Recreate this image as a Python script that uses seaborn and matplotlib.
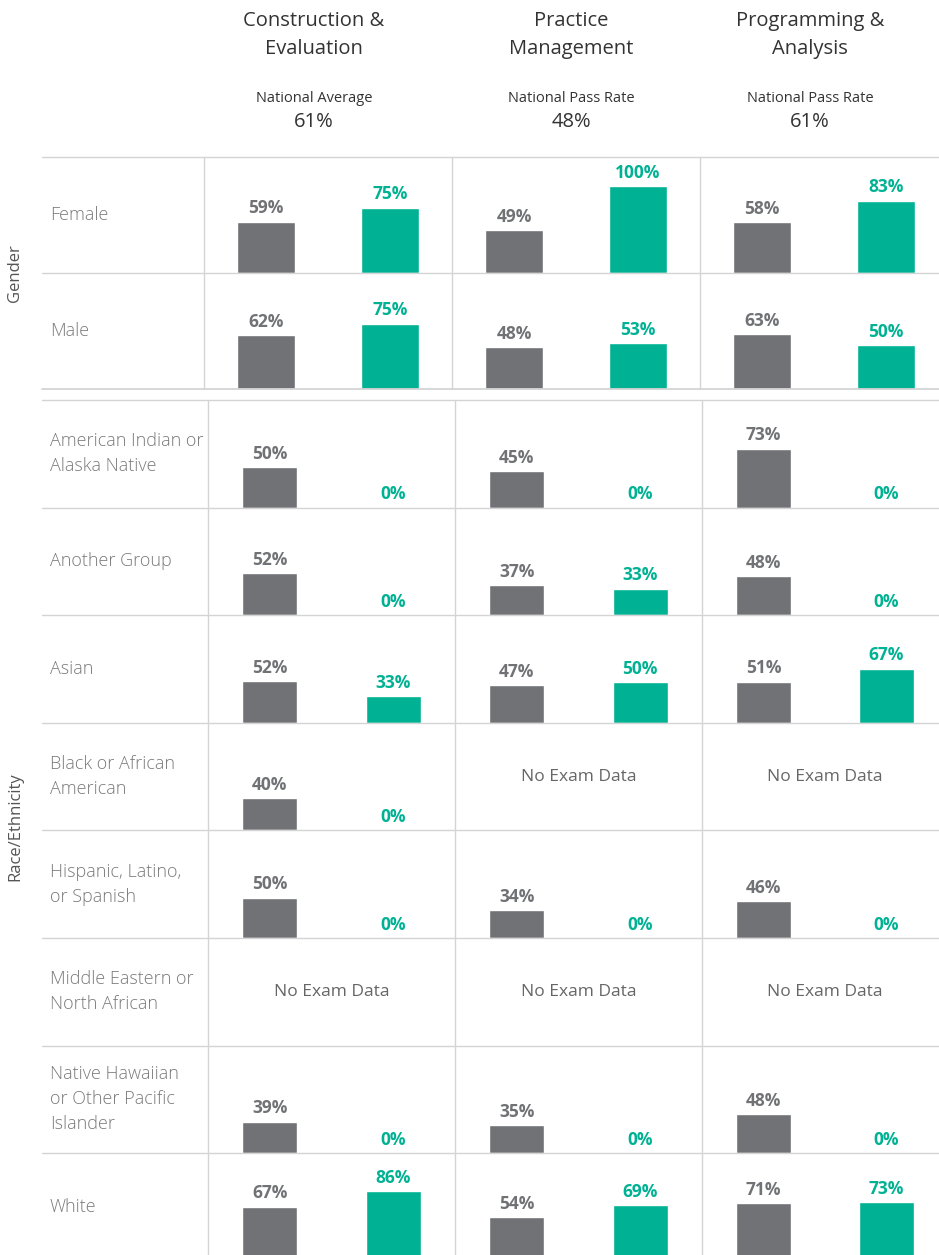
import numpy as np
import pandas as pd
import matplotlib
matplotlib.use("Agg")
import matplotlib.pyplot as plt
import seaborn as sns

# exam columns and their national rate headers
exams = ['Construction &\nEvaluation', 'Practice\nManagement', 'Programming &\nAnalysis']
rate_titles = ['National Average', 'National Pass Rate', 'National Pass Rate']
national_rates = [61, 48, 61]

series = ['National', 'Program']

gender_groups = ['Female', 'Male']
gender_gray = [[59, 49, 58], [62, 48, 63]]
gender_green = [[75, 100, 83], [75, 53, 50]]

race_groups = ['American Indian or\nAlaska Native', 'Another Group', 'Asian',
               'Black or African\nAmerican', 'Hispanic, Latino,\nor Spanish',
               'Middle Eastern or\nNorth African',
               'Native Hawaiian\nor Other Pacific\nIslander', 'White']
race_gray = [[50, 45, 73], [52, 37, 48], [52, 47, 51], [40, None, None],
             [50, 34, 46], [None, None, None], [39, 35, 48], [67, 54, 71]]
race_green = [[0, 0, 0], [0, 33, 0], [33, 50, 67], [0, None, None],
              [0, 0, 0], [None, None, None], [0, 0, 0], [86, 69, 73]]

GRAY = '#717276'
GREEN = '#00b293'
LINE = '#d4d4d4'
W, H = 939, 1255

sns.set_theme(style='white')
plt.rcParams['font.family'] = ['Open Sans', 'DejaVu Sans']

fig = plt.figure(figsize=(W / 100, H / 100), dpi=100)


def fx(px):
    return px / W


def fy(py):
    return 1 - py / H


def hline(x0, x1, y, lw=1.0):
    fig.add_artist(plt.Line2D([fx(x0), fx(x1)], [fy(y), fy(y)], color=LINE, lw=lw,
                              transform=fig.transFigure))


def vline(x, y0, y1):
    fig.add_artist(plt.Line2D([fx(x), fx(x)], [fy(y0), fy(y1)], color=LINE, lw=1.0,
                              transform=fig.transFigure))


def make_long(groups, gray, green):
    rows = []
    for gi, g in enumerate(groups):
        for ei, e in enumerate(exams):
            rows.append((g, ei, series[0], gray[gi][ei]))
            rows.append((g, ei, series[1], green[gi][ei]))
    return pd.DataFrame(rows, columns=['group', 'exam', 'series', 'rate'])


def draw_section(df, groups, col_edges, row_edges, bar_width):
    for gi, g in enumerate(groups):
        y0, y1 = row_edges[gi], row_edges[gi + 1]
        fig.text(fx(50), fy((y0 + y1) / 2), g, ha='left', va='center', fontsize=13,
                 color='#7a7a7a', fontweight='light', linespacing=1.5)
        for ei in range(3):
            x0, x1 = col_edges[ei], col_edges[ei + 1]
            ax = fig.add_axes([fx(x0), fy(y1), fx(x1 - x0), (y1 - y0) / H])
            sub = df[(df.group == g) & (df.exam == ei)]
            if sub.rate.isna().all():
                ax.text(0.5, 0.5, 'No Exam Data', transform=ax.transAxes, ha='center',
                        va='center', fontsize=12.5, color='#666666')
            else:
                sub = sub.assign(rate=sub.rate.astype(float))
                sns.barplot(data=sub, x='series', y='rate', hue='series', order=series,
                            hue_order=series, palette=[GRAY, GREEN], width=bar_width,
                            legend=False, ax=ax, saturation=1)
                for i, (v, c) in enumerate(zip(sub.rate, [GRAY, GREEN])):
                    ax.annotate(f'{v:.0f}%', (i, v), xytext=(0, 3),
                                textcoords='offset points', ha='center', va='bottom',
                                fontsize=12.5, fontweight='bold', color=c)
            ax.set_xlim(-0.5, 1.5)
            ax.set_ylim(0, 133)
            ax.set_axis_off()


# headers
title_x = [314, 571, 810]
for ei in range(3):
    fig.text(fx(title_x[ei]), fy(35), exams[ei], ha='center', va='center', fontsize=14.5,
             color='#333333', linespacing=1.55)
    fig.text(fx(title_x[ei]), fy(99), rate_titles[ei], ha='center', va='center',
             fontsize=10.5, color='#333333')
    fig.text(fx(title_x[ei]), fy(122), f'{national_rates[ei]}%', ha='center',
             va='center', fontsize=14.5, color='#333333')

# gender section (last column runs slightly past the right edge)
g_cols = [204, 452, 700, 948]
g_rows = [157, 273, 389]
draw_section(make_long(gender_groups, gender_gray, gender_green), gender_groups,
             g_cols, g_rows, 0.46)
for y in g_rows:
    hline(42, 939, y, lw=1.3 if y == 389 else 1.0)
for x in g_cols[:3]:
    vline(x, 157, 389)
fig.text(fx(15), fy(273), 'Gender', rotation=90, ha='center', va='center',
         fontsize=12, color='#555555')

# race section
r_cols = [208, 455, 702, 948]
r_rows = [400 + i * 107.6 for i in range(9)]
draw_section(make_long(race_groups, race_gray, race_green), race_groups,
             r_cols, r_rows, 0.445)
for y in r_rows[:8]:
    hline(42, 939, y)
for x in r_cols[:3]:
    vline(x, 400, 1255)
fig.text(fx(15), fy(827), 'Race/Ethnicity', rotation=90, ha='center', va='center',
         fontsize=12, color='#555555')

fig.savefig('out.png', dpi=100)
